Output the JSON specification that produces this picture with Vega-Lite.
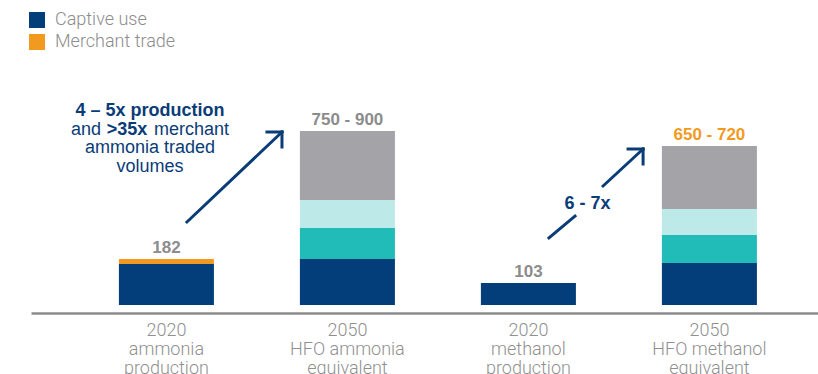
{
  "$schema": "https://vega.github.io/schema/vega-lite/v6.json",
  "width": 787,
  "height": 313,
  "autosize": {"type": "none"},
  "padding": {"left": 31, "top": 0, "right": 0, "bottom": 61},
  "background": "white",
  "config": {"view": {"stroke": null}, "font": "Liberation Sans"},
  "datasets": {
    "bars": [
      {"category": "2020\nammonia\nproduction", "series": "Captive use", "value": 41},
      {"category": "2020\nammonia\nproduction", "series": "Merchant trade", "value": 5},
      {"category": "2050\nHFO ammonia\nequivalent", "series": "Captive use", "value": 46},
      {"category": "2050\nHFO ammonia\nequivalent", "series": "Segment A", "value": 31},
      {"category": "2050\nHFO ammonia\nequivalent", "series": "Segment B", "value": 28},
      {"category": "2050\nHFO ammonia\nequivalent", "series": "Segment C", "value": 69},
      {"category": "2020\nmethanol\nproduction", "series": "Captive use", "value": 22},
      {"category": "2050\nHFO methanol\nequivalent", "series": "Captive use", "value": 42},
      {"category": "2050\nHFO methanol\nequivalent", "series": "Segment A", "value": 28},
      {"category": "2050\nHFO methanol\nequivalent", "series": "Segment B", "value": 26},
      {"category": "2050\nHFO methanol\nequivalent", "series": "Segment C", "value": 63}
    ],
    "totals": [
      {"category": "2020\nammonia\nproduction", "label": "182"},
      {"category": "2050\nHFO ammonia\nequivalent", "label": "750 - 900"},
      {"category": "2020\nmethanol\nproduction", "label": "103"},
      {"category": "2050\nHFO methanol\nequivalent", "label": "650 - 720"}
    ],
    "arrows": [
      {"x": 0.113, "y": 83, "x2": 0.638, "y2": 173},
      {"x": 0.555, "y": 173, "x2": 0.638, "y2": 173},
      {"x": 0.638, "y": 158, "x2": 0.638, "y2": 173},
      {"x": 2.113, "y": 67, "x2": 2.257, "y2": 89},
      {"x": 2.412, "y": 119, "x2": 2.633, "y2": 156},
      {"x": 2.55, "y": 156, "x2": 2.633, "y2": 156},
      {"x": 2.633, "y": 141, "x2": 2.633, "y2": 156}
    ],
    "boldNotes": [
      {"x": -0.0912, "y": 189, "text": "4 – 5x production"},
      {"x": -0.2188, "y": 170, "text": ">35x"},
      {"x": 2.326, "y": 96.5, "text": "6 - 7x"}
    ],
    "centerNotes": [
      {"x": -0.0912, "y": 152, "text": "ammonia traded"},
      {"x": -0.0912, "y": 133, "text": "volumes"}
    ],
    "rightNotes": [
      {"x": -0.3619, "y": 170, "text": "and"}
    ],
    "leftNotes": [
      {"x": -0.0691, "y": 170, "text": "merchant"}
    ]
  },
  "layer": [
    {
      "layer": [
        {
          "data": {"name": "bars"},
          "mark": {"type": "bar"},
          "encoding": {
            "x": {
              "field": "category",
              "type": "nominal",
              "sort": null,
              "scale": {
                "domain": ["2020\nammonia\nproduction", "2050\nHFO ammonia\nequivalent", "2020\nmethanol\nproduction", "2050\nHFO methanol\nequivalent"],
                "paddingInner": 0.475,
                "paddingOuter": 0.4116,
                "align": 0.59
              },
              "axis": {
                "title": null,
                "labelAngle": 0,
                "ticks": false,
                "domain": true,
                "domainColor": "#8c8c8c",
                "domainWidth": 2.5,
                "labelColor": "#8f8f8f",
                "labelFont": "Roboto",
                "labelFontWeight": 300,
                "labelFontSize": 18,
                "labelLineHeight": 19,
                "labelPadding": 8,
                "labelBaseline": "top",
                "labelLimit": 0,
                "labelOverlap": false,
                "labelExpr": "split(datum.label, '\\n')"
              }
            },
            "y": {
              "field": "value",
              "type": "quantitative",
              "stack": "zero",
              "scale": {"domain": [-8, 305], "nice": false, "zero": false},
              "axis": null
            },
            "color": {
              "field": "series",
              "type": "nominal",
              "scale": {
                "domain": ["Captive use", "Merchant trade", "Segment A", "Segment B", "Segment C"],
                "range": ["#033d7a", "#f29a1f", "#22bcb8", "#bdeae8", "#a3a3a8"]
              },
              "legend": {
                "orient": "none",
                "legendX": -3,
                "legendY": 11,
                "values": ["Captive use", "Merchant trade"],
                "title": null,
                "symbolType": "square",
                "symbolSize": 256,
                "symbolStrokeWidth": 0,
                "symbolOpacity": 1,
                "labelFont": "Roboto",
                "labelFontWeight": 300,
                "labelFontSize": 18,
                "labelColor": "#8c8c8c",
                "labelOffset": 9,
                "rowPadding": 4,
                "padding": 0
              }
            },
            "order": {"field": "series", "sort": "ascending"}
          }
        },
        {
          "data": {"name": "bars"},
          "transform": [
            {"aggregate": [{"op": "sum", "field": "value", "as": "total"}], "groupby": ["category"]},
            {"lookup": "category", "from": {"data": {"name": "totals"}, "key": "category", "fields": ["label"]}}
          ],
          "mark": {"type": "text", "font": "Liberation Sans", "fontWeight": "bold", "fontSize": 17, "dy": -6, "baseline": "alphabetic", "align": "center"},
          "encoding": {
            "x": {
              "field": "category",
              "type": "nominal",
              "sort": null
            },
            "y": {
              "field": "total",
              "type": "quantitative",
              "scale": {"domain": [-8, 305], "nice": false, "zero": false},
              "axis": null
            },
            "text": {"field": "label"},
            "color": {"condition": {"test": "datum.label == '650 - 720'", "value": "#f29a1f"}, "value": "#8c8c8c"}
          }
        }
      ]
    },
    {
      "layer": [
        {
          "data": {"name": "arrows"},
          "mark": {"type": "rule", "color": "#0a3c78", "strokeWidth": 3, "strokeCap": "square"},
          "encoding": {
            "x": {"field": "x", "type": "quantitative", "scale": {"domain": [-0.7486, 3.5994], "nice": false, "zero": false}, "axis": null},
            "x2": {"field": "x2"},
            "y": {"field": "y", "type": "quantitative", "scale": {"domain": [-8, 305], "nice": false, "zero": false}, "axis": null},
            "y2": {"field": "y2"}
          }
        },
        {
          "data": {"name": "boldNotes"},
          "mark": {"type": "text", "font": "Liberation Sans", "fontWeight": "bold", "fontSize": 18, "color": "#0a3c78", "align": "center", "baseline": "alphabetic"},
          "encoding": {
            "x": {"field": "x", "type": "quantitative", "scale": {"domain": [-0.7486, 3.5994], "nice": false, "zero": false}, "axis": null},
            "y": {"field": "y", "type": "quantitative", "scale": {"domain": [-8, 305], "nice": false, "zero": false}, "axis": null},
            "text": {"field": "text"}
          }
        },
        {
          "data": {"name": "centerNotes"},
          "mark": {"type": "text", "font": "Liberation Sans", "fontSize": 18, "color": "#0a3c78", "align": "center", "baseline": "alphabetic"},
          "encoding": {
            "x": {"field": "x", "type": "quantitative", "scale": {"domain": [-0.7486, 3.5994], "nice": false, "zero": false}, "axis": null},
            "y": {"field": "y", "type": "quantitative", "scale": {"domain": [-8, 305], "nice": false, "zero": false}, "axis": null},
            "text": {"field": "text"}
          }
        },
        {
          "data": {"name": "rightNotes"},
          "mark": {"type": "text", "font": "Liberation Sans", "fontSize": 18, "color": "#0a3c78", "align": "right", "baseline": "alphabetic"},
          "encoding": {
            "x": {"field": "x", "type": "quantitative", "scale": {"domain": [-0.7486, 3.5994], "nice": false, "zero": false}, "axis": null},
            "y": {"field": "y", "type": "quantitative", "scale": {"domain": [-8, 305], "nice": false, "zero": false}, "axis": null},
            "text": {"field": "text"}
          }
        },
        {
          "data": {"name": "leftNotes"},
          "mark": {"type": "text", "font": "Liberation Sans", "fontSize": 18, "color": "#0a3c78", "align": "left", "baseline": "alphabetic"},
          "encoding": {
            "x": {"field": "x", "type": "quantitative", "scale": {"domain": [-0.7486, 3.5994], "nice": false, "zero": false}, "axis": null},
            "y": {"field": "y", "type": "quantitative", "scale": {"domain": [-8, 305], "nice": false, "zero": false}, "axis": null},
            "text": {"field": "text"}
          }
        }
      ]
    }
  ],
  "resolve": {"scale": {"x": "independent"}}
}
